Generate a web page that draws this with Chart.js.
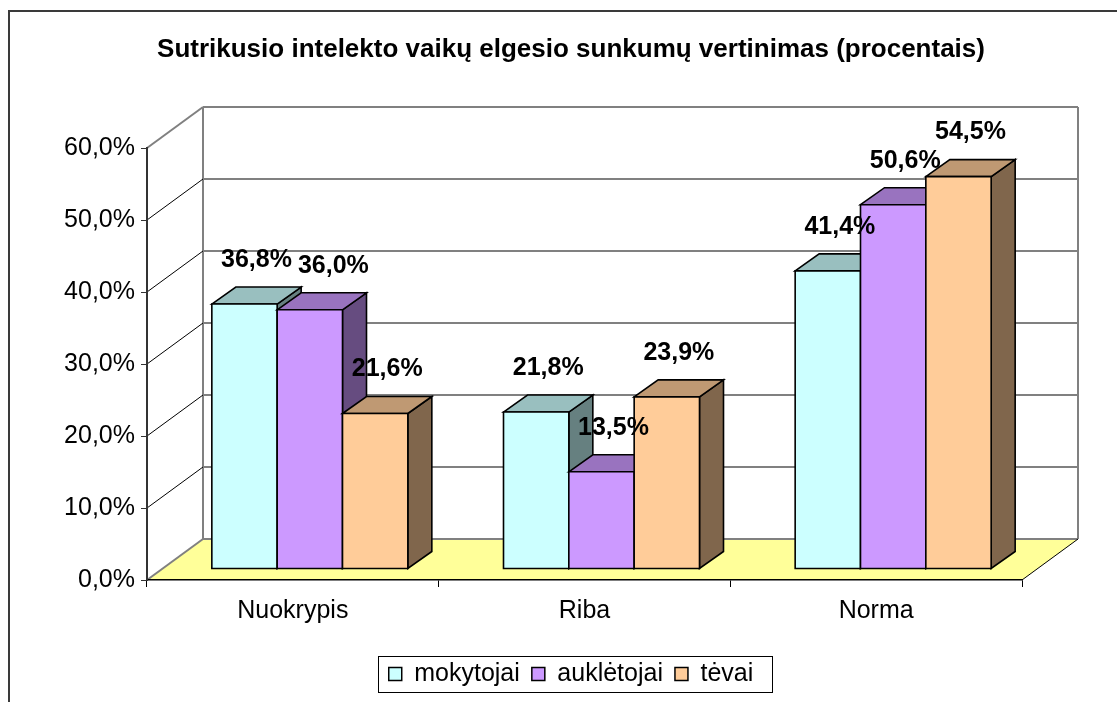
<!DOCTYPE html>
<html>
<head>
<meta charset="utf-8">
<title>Sutrikusio intelekto vaikų elgesio sunkumų vertinimas</title>
<script src="https://cdn.jsdelivr.net/npm/chart.js@4.4.0/dist/chart.umd.min.js"></script>
<style>
    html, body { margin: 0; padding: 0; background: #fff; }
    #wrap { position: relative; width: 1117px; height: 702px; }
</style>
</head>
<body>
<div id="wrap"><canvas id="grafikas"></canvas></div>
<script>
// duomenys
const kategorijos = ['Nuokrypis', 'Riba', 'Norma'];
const serijos = ['mokytojai', 'auklėtojai', 'tėvai'];
const mokytojai = [36.8, 21.8, 41.4];
const aukletojai = [36.0, 13.5, 50.6];
const tevai = [21.6, 23.9, 54.5];
const yTicks = [0, 10, 20, 30, 40, 50, 60];

// spalvos: priekis, virsus, sonas
const priekis = ['#CCFFFF', '#CC99FF', '#FFCC99'];
const virsus = ['#99BFBF', '#9973BF', '#BF9973'];
const sonas = ['#668080', '#664C80', '#80664C'];

// 3D poslinkiai
const SIENA = { x: 56, y: -41 };     // galine siena
const PLOKSTUMA = { x: 17, y: -11 }; // stulpeliu priekis
const GYLIS = { x: 24, y: -17 };     // stulpelio gylis

const SRIFTAS = '"Liberation Sans", Arial, sans-serif';

function procentai(v) {
    return v.toFixed(1).replace('.', ',') + '%';
}

function linija(ctx, x0, y0, x1, y1) {
    ctx.beginPath();
    ctx.moveTo(x0, y0);
    ctx.lineTo(x1, y1);
    ctx.stroke();
}

function figura(ctx, taskai, spalva) {
    ctx.beginPath();
    ctx.moveTo(taskai[0][0], taskai[0][1]);
    for (let i = 1; i < taskai.length; i++) ctx.lineTo(taskai[i][0], taskai[i][1]);
    ctx.closePath();
    ctx.fillStyle = spalva;
    ctx.fill();
    ctx.stroke();
}

const fonas3d = {
    id: 'fonas3d',
    beforeDraw(chart) {
        const ctx = chart.ctx;
        const xs = chart.scales.x, ys = chart.scales.y;
        const L = xs.left, R = xs.right, T = ys.top, B = ys.bottom;
        const bx0 = L + SIENA.x, bx1 = R + SIENA.x, by0 = T + SIENA.y, by1 = B + SIENA.y;
        ctx.save();
        ctx.fillStyle = '#fff';
        ctx.fillRect(0, 0, chart.width, chart.height);

        // remelis
        ctx.strokeStyle = '#3a3a3a';
        ctx.lineWidth = 2;
        ctx.strokeRect(9, 11, chart.width + 20, chart.height + 20);

        // grindys
        ctx.fillStyle = '#FFFF99';
        ctx.beginPath();
        ctx.moveTo(L, B); ctx.lineTo(R, B); ctx.lineTo(bx1, by1); ctx.lineTo(bx0, by1);
        ctx.closePath();
        ctx.fill();

        // galines sienos tinklelis
        ctx.strokeStyle = '#808080';
        ctx.lineWidth = 2;
        ys.ticks.forEach(t => {
            const py = ys.getPixelForValue(t.value) + SIENA.y;
            linija(ctx, bx0, py, bx1, py);
        });
        linija(ctx, bx0, by0, bx0, by1);
        linija(ctx, bx1, by0, bx1, by1);

        // kaire siena
        ys.ticks.forEach(t => {
            const py = ys.getPixelForValue(t.value);
            const krastas = t.value === ys.min || t.value === ys.max;
            ctx.strokeStyle = krastas ? '#808080' : '#000';
            ctx.lineWidth = krastas ? 2 : 1;
            linija(ctx, L, py, L + SIENA.x, py + SIENA.y);
        });

        ctx.strokeStyle = '#000';
        ctx.lineWidth = 1;
        linija(ctx, R, B, bx1, by1);
        ctx.restore();
    }
};

const stulpeliai3d = {
    id: 'stulpeliai3d',
    beforeDatasetsDraw(chart) {
        const ctx = chart.ctx;
        const sets = chart.data.datasets;
        ctx.save();
        ctx.strokeStyle = '#000';
        ctx.lineWidth = 1.6;
        ctx.lineJoin = 'miter';
        for (let i = 0; i < chart.data.labels.length; i++) {
            sets.forEach((ds, d) => {
                const el = chart.getDatasetMeta(d).data[i];
                const x0 = el.x - el.width / 2 + PLOKSTUMA.x;
                const x1 = el.x + el.width / 2 + PLOKSTUMA.x;
                const y0 = el.y + PLOKSTUMA.y;
                const y1 = el.base + PLOKSTUMA.y;
                figura(ctx, [[x1, y0], [x1 + GYLIS.x, y0 + GYLIS.y], [x1 + GYLIS.x, y1 + GYLIS.y], [x1, y1]], sonas[d]);
                figura(ctx, [[x0, y0], [x0 + GYLIS.x, y0 + GYLIS.y], [x1 + GYLIS.x, y0 + GYLIS.y], [x1, y0]], virsus[d]);
                figura(ctx, [[x0, y0], [x1, y0], [x1, y1], [x0, y1]], priekis[d]);
            });
        }

        // reiksmes virs stulpeliu; jei uzeina ant kaimyno - pastumiam i desine
        ctx.font = 'bold 25px ' + SRIFTAS;
        ctx.fillStyle = '#000';
        ctx.textAlign = 'center';
        ctx.textBaseline = 'middle';
        for (let i = 0; i < chart.data.labels.length; i++) {
            let ankstesnis = null;
            sets.forEach((ds, d) => {
                const el = chart.getDatasetMeta(d).data[i];
                const tekstas = procentai(ds.data[i]);
                const w = ctx.measureText(tekstas).width;
                let cx = el.x + PLOKSTUMA.x + GYLIS.x / 2;
                const cy = el.y + PLOKSTUMA.y - 44;
                if (ankstesnis && Math.abs(ankstesnis.cy - cy) < 22 && cx - w / 2 < ankstesnis.right + 6) {
                    cx = ankstesnis.right + 6 + w / 2;
                }
                ctx.fillText(tekstas, cx, cy);
                ankstesnis = { right: cx + w / 2, cy: cy };
            });
        }
        ctx.restore();
        return false;
    }
};

const legendosRemas = {
    id: 'legendosRemas',
    afterDraw(chart) {
        const boxes = chart.legend.legendHitBoxes;
        if (!boxes.length) return;
        const kaire = Math.min(...boxes.map(b => b.left)) - 11;
        const desine = Math.max(...boxes.map(b => b.left + b.width)) + 18;
        const vidurys = boxes[0].top + boxes[0].height / 2;
        const ctx = chart.ctx;
        ctx.save();
        ctx.strokeStyle = '#000';
        ctx.lineWidth = 1;
        ctx.strokeRect(Math.round(kaire) + 0.5, Math.round(vidurys - 18) + 0.5, Math.round(desine - kaire), 36);
        ctx.restore();
    }
};

const duomenys = [mokytojai, aukletojai, tevai];

new Chart(document.getElementById('grafikas'), {
    type: 'bar',
    data: {
        labels: kategorijos,
        datasets: serijos.map((s, d) => ({
            label: s,
            data: duomenys[d],
            backgroundColor: priekis[d],
            borderColor: '#000',
            borderWidth: 1.5,
            categoryPercentage: 0.672,
            barPercentage: 1
        }))
    },
    options: {
        responsive: true,
        maintainAspectRatio: false,
        animation: false,
        layout: { padding: { left: 50, right: 25, top: 0, bottom: 5.5 } },
        scales: {
            x: {
                afterFit: s => { s.height = 69.5; },
                grid: { offset: true, drawOnChartArea: false, tickLength: 7, color: '#000', lineWidth: 1 },
                border: { color: '#000', width: 1.5 },
                ticks: { color: '#000', padding: 9, font: { family: SRIFTAS, size: 25 } }
            },
            y: {
                min: 0,
                max: 60,
                afterFit: s => { s.width = 97; },
                afterBuildTicks: s => { s.ticks = yTicks.map(v => ({ value: v })); },
                grid: { drawOnChartArea: false, tickLength: 6, color: '#333' },
                border: { color: '#333', width: 2 },
                ticks: {
                    color: '#000',
                    padding: 6,
                    font: { family: SRIFTAS, size: 25 },
                    callback: v => procentai(v)
                }
            },
            // tuscia vieta desineje (galinei sienai)
            tarpas: {
                type: 'linear',
                position: 'right',
                afterFit: s => { s.width = 70; },
                grid: { display: false },
                border: { display: false },
                ticks: { display: false }
            }
        },
        plugins: {
            title: {
                display: true,
                text: 'Sutrikusio intelekto vaikų elgesio sunkumų vertinimas (procentais)',
                color: '#000',
                font: { family: SRIFTAS, size: 26, weight: 'bold' },
                padding: { top: 34.4, bottom: 82.4 }
            },
            legend: {
                position: 'bottom',
                labels: {
                    color: '#000',
                    boxWidth: 13,
                    boxHeight: 13,
                    padding: 12,
                    font: { family: SRIFTAS, size: 25 }
                }
            },
            tooltip: { enabled: false }
        }
    },
    plugins: [fonas3d, stulpeliai3d, legendosRemas]
});
</script>
</body>
</html>
